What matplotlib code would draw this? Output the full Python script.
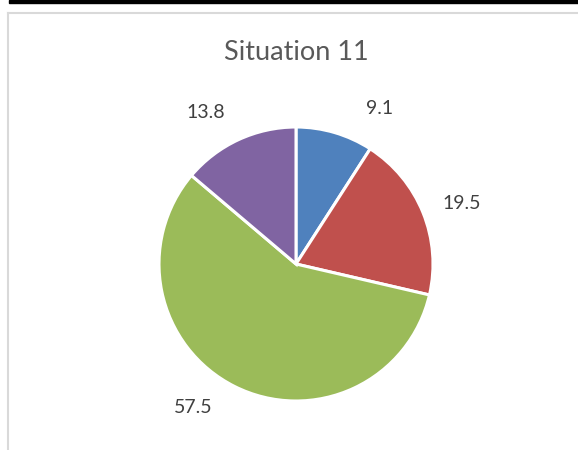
import numpy as np
import matplotlib.pyplot as plt
from matplotlib.lines import Line2D
from matplotlib.patches import Rectangle

title = "Situation 11"
values = [9.1, 19.5, 57.5, 13.8]
labels = ["9.1", "19.5", "57.5", "13.8"]
colors = ["#4F81BD", "#C0504D", "#9BBB59", "#8064A2"]

W, H = 578, 450
fig = plt.figure(figsize=(W / 100, H / 100), dpi=100)
plt.rcParams['font.family'] = ['Lato', 'DejaVu Sans']

# whole figure as a pixel canvas (y up)
ax = fig.add_axes([0, 0, 1, 1])

# black bar at top and grey chart-area border
fig.patches.append(Rectangle((9 / W, 1 - 3 / H), 1, 3 / H, transform=fig.transFigure,
                             color='black', zorder=0))
fig.lines.append(Line2D([7.5 / W, 1], [1 - 12.5 / H, 1 - 12.5 / H], transform=fig.transFigure,
                        color='#D9D9D9', lw=1.5))
fig.lines.append(Line2D([7.5 / W, 7.5 / W], [0, 1 - 12.5 / H], transform=fig.transFigure,
                        color='#D9D9D9', lw=1.5))

cx, cy, r = 296, H - 264, 137
wedges, _ = ax.pie(values, colors=colors, startangle=90, counterclock=False,
                   center=(cx, cy), radius=r,
                   wedgeprops=dict(edgecolor='white', linewidth=2.2))
ax.set_xlim(0, W)
ax.set_ylim(0, H)
ax.set_aspect('equal')
ax.axis('off')

# data labels placed outside (best fit style)
label_shift = [-12, -2, -9, 6]
for w, lab, sh in zip(wedges, labels, label_shift):
    ang = np.deg2rad((w.theta1 + w.theta2) / 2 + sh)
    d = r * 1.29
    ax.text(cx + d * np.cos(ang), cy + d * np.sin(ang), lab, ha='center', va='center',
            fontsize=14, color='#404040')

ax.text(296, H - 53, title, ha='center', va='center', fontsize=19.5, color='#595959')

fig.savefig('out.png', dpi=100)
